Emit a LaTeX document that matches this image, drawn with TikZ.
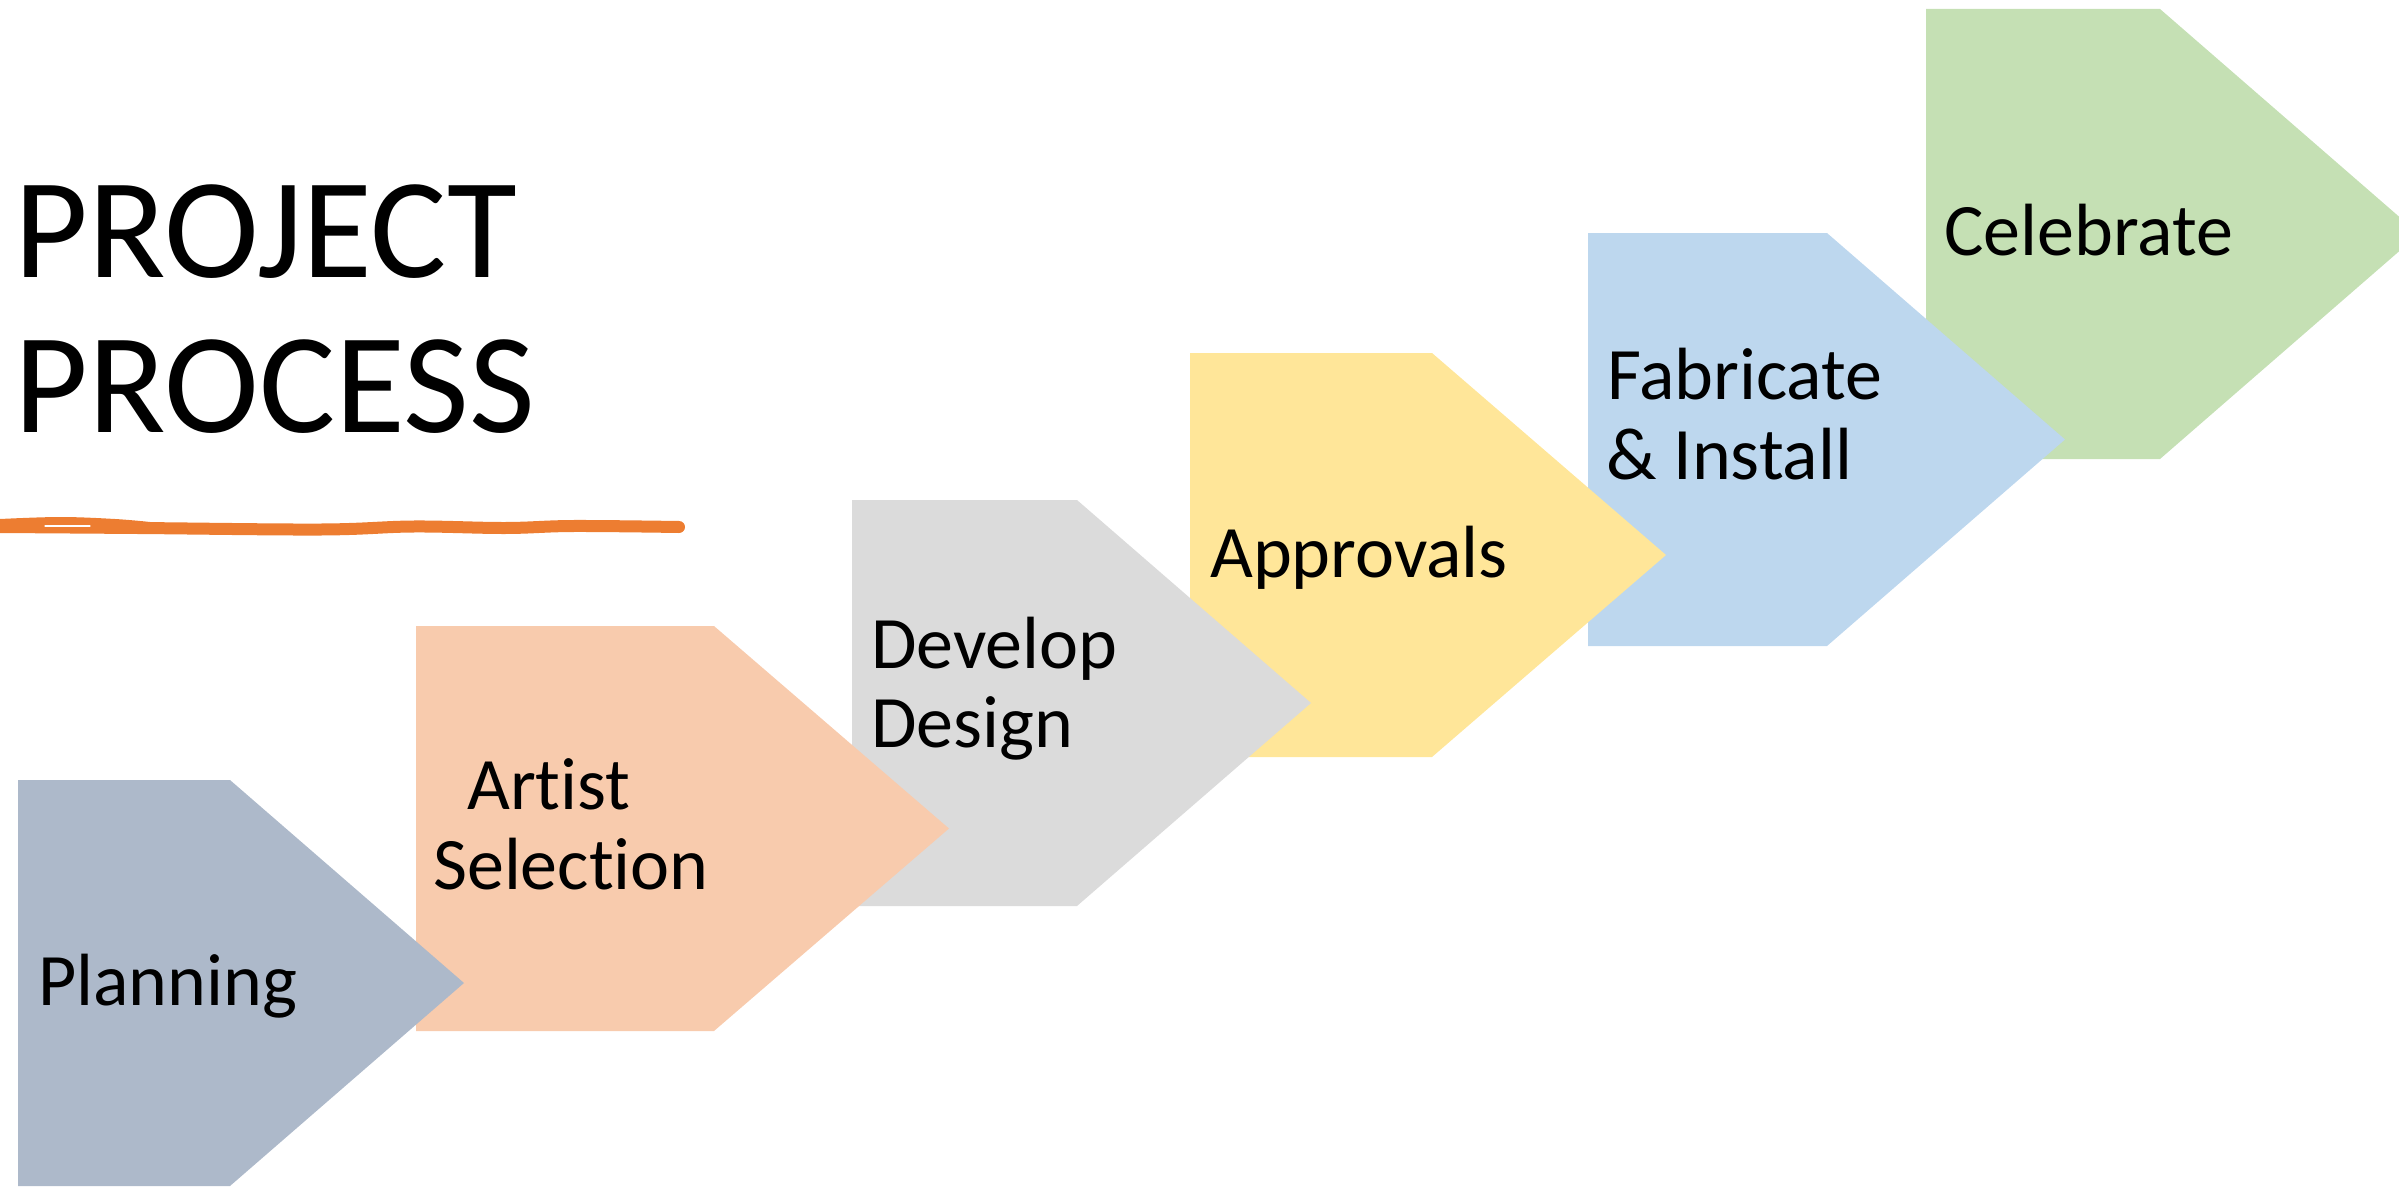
\documentclass[tikz,border=0pt]{standalone}
\usepackage{fontspec}
\setmainfont{Carlito}[Ligatures=NoCommon]

\definecolor{planfill}{HTML}{ADB9CA}
\definecolor{artistfill}{HTML}{F8CBAD}
\definecolor{designfill}{HTML}{DBDBDB}
\definecolor{approvefill}{HTML}{FFE699}
\definecolor{fabfill}{HTML}{BDD7EE}
\definecolor{celebfill}{HTML}{C5E0B4}
\definecolor{penorange}{HTML}{ED7D31}

% pentagon step: colour, left x, shoulder x, tip x, top y, bottom y
\newcommand\stepplate[6]{%
  \fill[#1] (#2,#5) -- (#3,#5) -- (#4,{(#5+#6)/2}) -- (#3,#6) -- (#2,#6) -- cycle;}

\begin{document}
\begin{tikzpicture}[x=1pt,y=-1pt,
  steplabel/.style={anchor=base west, inner sep=0pt, text=black,
    font=\fontsize{74}{80}\selectfont},
  titletext/.style={anchor=base west, inner sep=0pt, text=black,
    font=\fontsize{143}{155}\selectfont},
  penstroke/.style={draw=penorange, line cap=round, line join=round}]
\useasboundingbox (0,0) rectangle (2399,1188);
\clip (0,0) rectangle (2399,1188);

% steps, last one first so each tip lies over the next step
\stepplate{celebfill}{1926}{2160}{2419}{9}{459}
\stepplate{fabfill}{1588}{1827}{2065}{233}{646}
\stepplate{approvefill}{1190}{1432}{1666}{353}{757}
\stepplate{designfill}{852}{1077}{1311}{500}{906}
\stepplate{artistfill}{416}{714}{949}{626}{1031}
\stepplate{planfill}{18}{230}{464}{780}{1186}

% title
\node[titletext] (title1) at (14,277) {PROJECT};
\node[titletext] (title2) at (14,432) {PROCESS};

% hand-drawn underline: main band plus the small loop at its start
\draw[penstroke, line width=12pt] plot[smooth, tension=0.6] coordinates
  {(0,527) (138,528) (321,529.5) (413,526.5) (505,528) (573,526) (679,527)};
\draw[penstroke, line width=6pt] plot[smooth, tension=0.6] coordinates
  {(0,522) (60,520) (115,522) (150,525)};
\draw[white, line width=1.2pt, line cap=round] (45,526) -- (90,526);

% step labels
\node[steplabel] (planning) at (38,1005) {Planning};
\node[steplabel] (artist1) at (467,809) {Artist};
\node[steplabel] (artist2) at (433,889) {Selection};
\node[steplabel] (design1) at (871,668) {Develop};
\node[steplabel] (design2) at (871,747) {Design};
\node[steplabel] (approvals) at (1210,577) {Approvals};
\node[steplabel] (fab1) at (1607,399) {Fabricate};
\node[steplabel] (fab2) at (1606,479) {\& Install};
\node[steplabel] (celebrate) at (1944,255) {Celebrate};
\end{tikzpicture}
\end{document}
